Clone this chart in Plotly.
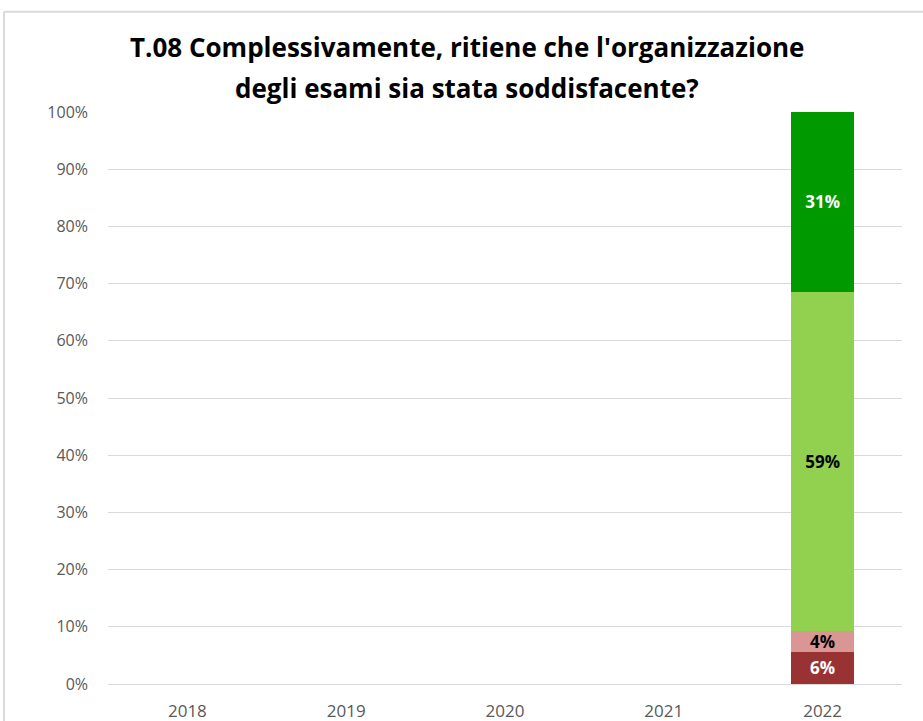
import plotly.graph_objects as go

years = ["2018", "2019", "2020", "2021", "2022"]
decisamente_no = [None, None, None, None, 5.6]
piu_no_che_si = [None, None, None, None, 3.7]
piu_si_che_no = [None, None, None, None, 59.3]
decisamente_si = [None, None, None, None, 31.4]
y_ticks = list(range(0, 101, 10))
y_tick_labels = [f"{v}%" for v in y_ticks]

series = [
    ("Decisamente no", decisamente_no, "#993333", "white"),
    ("Più no che sì", piu_no_che_si, "#DA9694", "black"),
    ("Più sì che no", piu_si_che_no, "#92D050", "black"),
    ("Decisamente sì", decisamente_si, "#009900", "white"),
]

font_family = "Open Sans, Noto Sans, DejaVu Sans, sans-serif"

# plot box in page pixels (body margin removed below)
plot_l, plot_r = 108, 902
plot_t, plot_b = 112.3, 684.5
W, H = 923, 721
plot_w, plot_h = plot_r - plot_l, plot_b - plot_t

def px_x(x):
    return (x - plot_l) / plot_w

def px_y(y):
    return (plot_b - y) / plot_h

fig = go.Figure()
for name, vals, color, txtcol in series:
    fig.add_trace(go.Bar(
        x=years, y=vals, name=name,
        marker=dict(color=color, line=dict(width=0)),
        texttemplate="%{y:.0f}%", textposition="inside",
        insidetextanchor="middle", constraintext="none",
        textfont=dict(color=txtcol, size=17, family=font_family, weight="bold"),
        width=0.4,
    ))

fig.update_layout(
    barmode="stack",
    width=W, height=H,
    paper_bgcolor="white", plot_bgcolor="white",
    margin=dict(l=plot_l, r=W - plot_r, t=plot_t, b=H - plot_b, autoexpand=False),
    showlegend=False,
    font=dict(family=font_family, color="#595959"),
)

# title as two lines to get Excel-like line spacing
title_lines = ["T.08 Complessivamente, ritiene che l'organizzazione",
               "degli esami sia stata soddisfacente?"]
for line, ypix in zip(title_lines, [47, 88]):
    fig.add_annotation(
        text=f"<b>{line}</b>", showarrow=False,
        xref="paper", yref="paper", x=px_x(467), xanchor="center",
        y=px_y(ypix), yanchor="middle",
        font=dict(family=font_family, size=26, color="black"),
    )

fig.update_yaxes(
    range=[0, 100], tickvals=y_ticks, ticktext=y_tick_labels,
    showgrid=True, gridcolor="#D9D9D9", gridwidth=1,
    zeroline=True, zerolinecolor="#D9D9D9", zerolinewidth=1,
    tickfont=dict(size=16, color="#595959"), ticklabelstandoff=19,
    showline=False, automargin=False,
)
fig.update_xaxes(
    showline=False, showgrid=False, automargin=False,
    tickfont=dict(size=17, color="#595959"), ticklabelstandoff=15,
)

# chart area border (left and top edges visible in the frame)
top = px_y(12)
left = px_x(4)
fig.add_shape(type="line", xref="paper", yref="paper",
              x0=left, x1=left, y0=-0.2, y1=top,
              line=dict(color="#D9D9D9", width=2))
fig.add_shape(type="line", xref="paper", yref="paper",
              x0=left, x1=1.1, y0=top, y1=top,
              line=dict(color="#D9D9D9", width=2))

fig.write_html("out.html", config={"displayModeBar": False},
               post_script="document.body.style.margin='0';")
